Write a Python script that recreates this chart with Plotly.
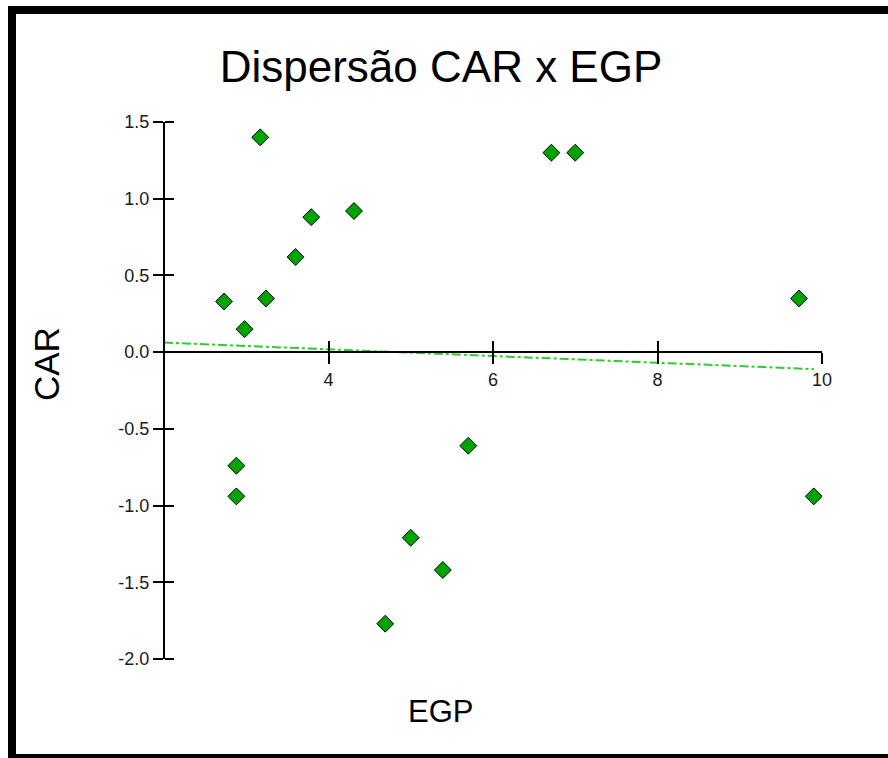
import numpy as np
import plotly.graph_objects as go

# Data
egp = [2.73, 2.98, 3.17, 3.24, 2.88, 2.88, 3.60, 3.79, 4.31, 4.69, 5.00, 5.39, 5.70, 6.71, 7.00, 9.72, 9.90]
car = [0.33, 0.15, 1.40, 0.35, -0.74, -0.94, 0.62, 0.88, 0.92, -1.77, -1.21, -1.42, -0.61, 1.30, 1.30, 0.35, -0.94]

x_ticks = [4, 6, 8, 10]
y_ticks = [-2.0, -1.5, -1.0, -0.5, 0.0, 0.5, 1.0, 1.5]
x_range = [2, 10]
y_range = [-2.0, 1.5]

title_text = "Dispersão CAR x EGP"
x_title = "EGP"
y_title = "CAR"

# Linear trend (least squares)
slope, intercept = np.polyfit(egp, car, 1)
trend_x = [x_range[0], max(egp)]
trend_y = [intercept + slope * v for v in trend_x]

W, H = 888, 758
ML, MR, MT, MB = 164, 66, 122, 99
PW, PH = W - ML - MR, H - MT - MB
FONT = "Liberation Sans, Arial, sans-serif"

fig = go.Figure()

fig.add_trace(go.Scatter(
    x=trend_x, y=trend_y, mode="lines",
    line=dict(color="#2ecc2e", width=2, dash="dashdot"),
    showlegend=False, hoverinfo="skip",
))
fig.add_trace(go.Scatter(
    x=egp, y=car, mode="markers",
    marker=dict(symbol="diamond", size=13, color="#00a400",
                line=dict(color="#000000", width=1)),
    showlegend=False,
))
# dummy traces so the overlay axes (inner tick halves) get drawn
fig.add_trace(go.Scatter(x=[None], y=[None], xaxis="x2", yaxis="y",
                         showlegend=False, hoverinfo="skip"))
fig.add_trace(go.Scatter(x=[None], y=[None], xaxis="x", yaxis="y2",
                         showlegend=False, hoverinfo="skip"))

y0_pos = (0 - y_range[0]) / (y_range[1] - y_range[0])

axis_common = dict(showgrid=False, zeroline=False, ticks="outside",
                   tickcolor="#000000", tickwidth=2)

fig.update_layout(
    width=W, height=H,
    margin=dict(l=ML, r=MR, t=MT, b=MB),
    paper_bgcolor="white", plot_bgcolor="white",
    font=dict(family=FONT, color="#1a1a1a"),
    title=dict(text=title_text, x=441 / W, xanchor="center",
               y=1 - 67 / H, yanchor="middle",
               font=dict(size=44, color="#000000", family=FONT)),
    xaxis=dict(range=x_range, tickvals=x_ticks, ticktext=[str(v) for v in x_ticks],
               anchor="free", position=y0_pos,
               showline=True, linecolor="#000000", linewidth=2,
               ticklen=11, tickfont=dict(size=18, color="#1a1a1a"),
               **axis_common),
    yaxis=dict(range=y_range, tickvals=y_ticks, ticktext=[f"{v:.1f}" for v in y_ticks],
               anchor="free", position=0,
               showline=True, linecolor="#000000", linewidth=2,
               ticklen=10, tickfont=dict(size=18, color="#1a1a1a"),
               **axis_common),
    xaxis2=dict(range=x_range, tickvals=x_ticks, overlaying="x", anchor="free",
                position=y0_pos, showline=False, showgrid=False, zeroline=False,
                ticks="inside", ticklen=11, tickcolor="#000000", tickwidth=2,
                showticklabels=False),
    yaxis2=dict(range=y_range, tickvals=y_ticks, overlaying="y", anchor="free",
                position=0, side="right", showline=False, showgrid=False, zeroline=False,
                ticks="outside", ticklen=9, tickcolor="#000000", tickwidth=2,
                showticklabels=False),
    annotations=[
        dict(text=x_title, xref="paper", yref="paper",
             x=(440 - ML) / PW, y=(H - MB - 711) / PH,
             xanchor="center", yanchor="middle", showarrow=False,
             font=dict(size=31, color="#000000", family=FONT)),
        dict(text=y_title, xref="paper", yref="paper",
             x=(46 - ML) / PW, y=(H - MB - 364) / PH,
             xanchor="center", yanchor="middle", showarrow=False, textangle=-90,
             font=dict(size=35, color="#000000", family=FONT)),
    ],
    shapes=[
        dict(type="rect", xref="paper", yref="paper",
             x0=(12 - ML) / PW, x1=(900 - ML) / PW,
             y0=(H - MB - 758) / PH, y1=(H - MB - 10) / PH,
             line=dict(color="#000000", width=8), fillcolor="rgba(0,0,0,0)",
             layer="above"),
    ],
)

fig.write_html("out.html", config={"displayModeBar": False},
               post_script="document.body.style.margin='0';document.body.style.overflow='hidden';")
